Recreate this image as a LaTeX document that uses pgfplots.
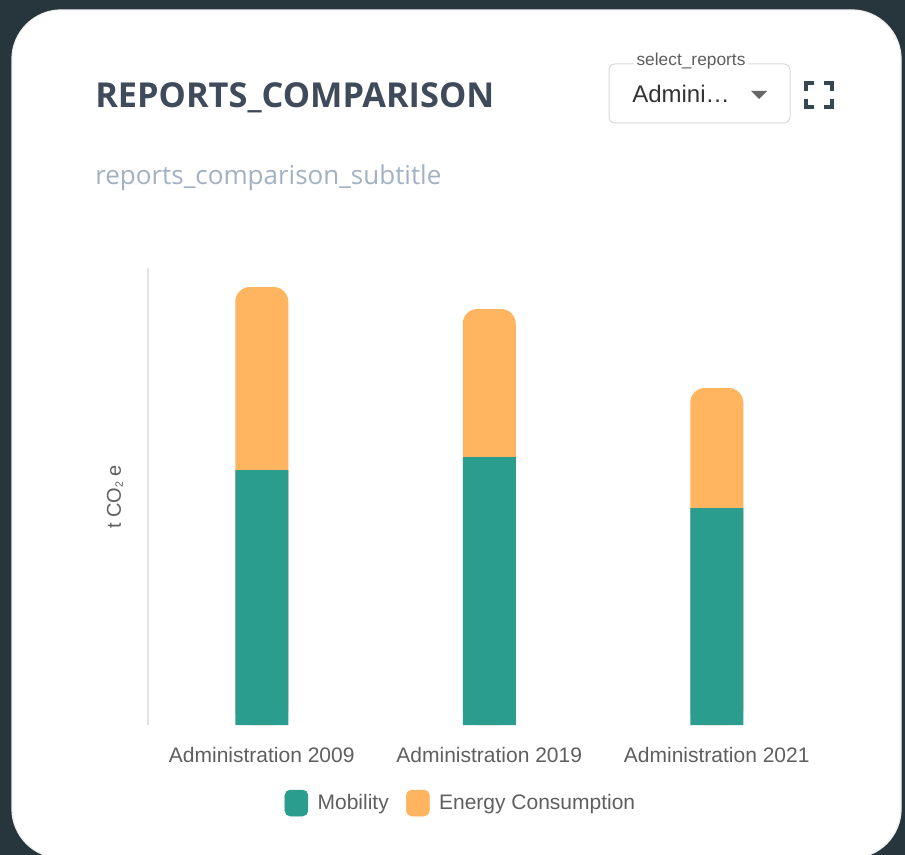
\documentclass[border=0pt]{standalone}
\usepackage{fontspec}
\setmainfont{Liberation Sans}
\newfontfamily\opensans{Open Sans}
\usepackage{pgfplots}
\usepackage{pgfplotstable}
\pgfplotsset{compat=1.18}
\definecolor{bgdark}{HTML}{27363D}
\definecolor{mobcol}{HTML}{2A9D8F}
\definecolor{orng}{HTML}{FFB55F}
\definecolor{titlecol}{HTML}{3F4A5A}
\definecolor{subcol}{HTML}{A3B1C2}
\definecolor{txtgray}{HTML}{5F5F5F}
\definecolor{iconcol}{HTML}{37474F}
\pgfplotstableread{
x mobility energy
0 255 183
1 268 148
2 217 120
}\datatable
\begin{document}
\begin{tikzpicture}
\useasboundingbox (0,0) rectangle (678.75pt,-641.25pt);
\begin{scope}[x=0.75pt,y=-0.75pt]
\fill[bgdark] (0,0) rectangle (905,855);
\fill[white, draw=gray!12, line width=1pt, rounded corners=37pt] (12,10) rectangle (901,858);
% title and subtitle
\node[anchor=base west, inner sep=0pt, text=titlecol] at (95,108) {\opensans\bfseries\fontsize{25.75}{30}\selectfont REPORTS\_COMPARISON};
\node[anchor=base west, inner sep=0pt, text=subcol] at (95,185) {\opensans\fontsize{19.5}{23}\selectfont reports\_comparison\_subtitle};
% dropdown
\draw[gray!30, line width=0.75pt, rounded corners=4.5pt] (609,64) rectangle (790,123);
\node[fill=white, inner xsep=2pt, inner ysep=1pt, text=txtgray] at (691,61) {\fontsize{13}{15}\selectfont select\_reports};
\node[anchor=base west, inner sep=0pt, text=black!80] at (632,103) {\fontsize{18}{21}\selectfont Admini…};
\fill[black!60] (751,91) -- (767,91) -- (759,99) -- cycle;
% fullscreen icon
\draw[iconcol, line width=2.4pt] (806,91) -- (806,83) -- (814,83);
\draw[iconcol, line width=2.4pt] (824,83) -- (832,83) -- (832,91);
\draw[iconcol, line width=2.4pt] (806,99) -- (806,107) -- (814,107);
\draw[iconcol, line width=2.4pt] (824,107) -- (832,107) -- (832,99);
% y label
\node[rotate=90, text=txtgray] at (115,497) {\fontsize{15}{18}\selectfont t CO{\fontsize{8}{9}\selectfont\raisebox{-1.5pt}{2}} e};
\end{scope}
\begin{axis}[
  at={(111pt,-543.75pt)}, anchor=south west,
  scale only axis, width=511.875pt, height=342.75pt,
  xmin=-0.5, xmax=2.5, ymin=0, ymax=457,
  axis lines=left,
  axis line style={-},
  x axis line style={draw=none},
  y axis line style={draw=gray!22, line width=0.8pt},
  xtick={0,1,2},
  xticklabels={Administration 2009,Administration 2019,Administration 2021},
  ytick=\empty,
  major tick length=0pt,
  xticklabel style={anchor=base, yshift=-27.75pt, text=txtgray, font=\fontsize{15.75}{18}\selectfont},
  clip=false,
  legend style={at={(0.459,-0.1707)}, anchor=center, draw=none, fill=none,
    legend columns=2, font=\fontsize{15.75}{18}\selectfont, text=txtgray,
    /tikz/every even column/.append style={column sep=11pt}},
  legend cell align=left,
]
\addplot[ybar, bar width=39.75pt, bar shift=0pt, fill=orng, draw=none, rounded corners=11pt, forget plot]
  table[x=x, y expr=\thisrow{mobility}+\thisrow{energy}] {\datatable};
\addplot[ybar, bar width=39.75pt, bar shift=0pt, fill=mobcol, draw=none, forget plot]
  table[x=x, y=mobility] {\datatable};
\addlegendimage{legend image code/.code={\fill[mobcol, rounded corners=4pt] (0pt,-9.75pt) rectangle (17.25pt,9.75pt); \path[draw=none] (0pt,0pt) -- (22.5pt,0pt);}}
\addlegendentry{Mobility}
\addlegendimage{legend image code/.code={\fill[orng, rounded corners=4pt] (0pt,-9.75pt) rectangle (17.25pt,9.75pt); \path[draw=none] (0pt,0pt) -- (22.5pt,0pt);}}
\addlegendentry{Energy Consumption}
\end{axis}
\end{tikzpicture}
\end{document}
